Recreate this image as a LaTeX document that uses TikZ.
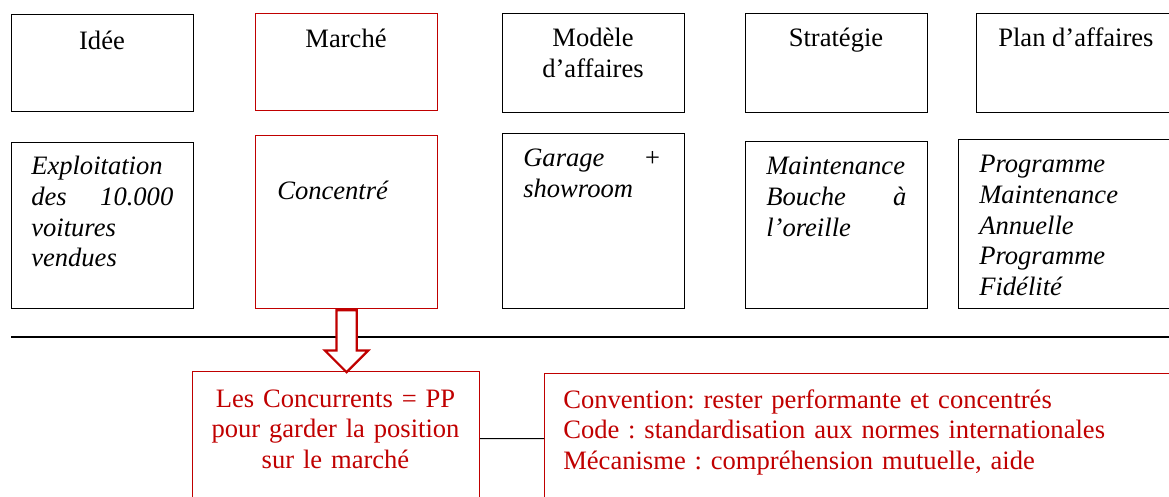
\documentclass[tikz,border=0pt]{standalone}
\usepackage{fontspec}
\setmainfont{Liberation Serif}
\usepackage{tikz}
\usetikzlibrary{shapes,arrows}
\usepackage{xcolor}
\definecolor{rougefonce}{RGB}{192,0,0}
\frenchspacing

\begin{document}
\begin{tikzpicture}[x=0.025cm, y=-0.025cm,
		every node/.style={font=\fontsize{18.9}{21.7}\selectfont},
		cadre/.style={draw=black, line width=0.7pt, anchor=north west, inner sep=0pt},
		cadrerouge/.style={cadre, draw=rougefonce},
		titre/.style={anchor=base, text width=4.4cm, align=center, inner sep=0pt},
		contenu/.style={anchor=base west, align=left, inner sep=0pt, font=\fontsize{18.9}{21.7}\selectfont\itshape},
		texterouge/.style={text=rougefonce, inner sep=0pt},
		fleche/.style={single arrow, draw=rougefonce, fill=white, line width=1.6pt, shape border rotate=270, inner sep=0.225cm, single arrow head extend=0.29cm, minimum height=1.55cm, anchor=tail}]
		\useasboundingbox (0,0) rectangle (1169,497);
		% ligne du haut
		\node[cadre, minimum width=4.55cm, minimum height=2.425cm] (idee) at (11,14) {};
		\node[cadrerouge, minimum width=4.55cm, minimum height=2.425cm] (marche) at (255,13) {};
		\node[cadre, minimum width=4.55cm, minimum height=2.475cm] (modele) at (502,13) {};
		\node[cadre, minimum width=4.55cm, minimum height=2.475cm] (strategie) at (745,13) {};
		\node[cadre, minimum width=5cm, minimum height=2.475cm] (plan) at (976,13) {};
		\node[titre] (tidee) at (102,50) {Idée};
		\node[titre] (tmarche) at (346,48) {Marché};
		\node[titre] (tmodele) at (593,47) {Modèle\\d’affaires};
		\node[titre] (tstrategie) at (836,47) {Stratégie};
		\node[anchor=base west, inner sep=0pt] (tplan) at (998,47) {Plan d’affaires};
		% ligne du bas
		\node[cadre, minimum width=4.55cm, minimum height=4.15cm] (idee2) at (11,142) {};
		\node[cadrerouge, minimum width=4.55cm, minimum height=4.325cm] (marche2) at (255,135) {};
		\node[cadre, minimum width=4.55cm, minimum height=4.375cm] (modele2) at (502,133) {};
		\node[cadre, minimum width=4.55cm, minimum height=4.175cm] (strategie2) at (745,141) {};
		\node[cadre, minimum width=5.5cm, minimum height=4.225cm] (plan2) at (958,139) {};
		\node[contenu, text width=3.55cm] (cidee) at (31,175) {Exploitation\\des\hfill 10.000\\voitures\\vendues};
		\node[contenu, text width=3.5cm] (cmarche) at (277,200) {Concentré};
		\node[contenu, text width=3.45cm] (cmodele) at (523,167) {Garage\hfill +\\showroom};
		\node[contenu, text width=3.5cm] (cstrategie) at (766,175) {Maintenance\\Bouche\hfill à\\l’oreille};
		\node[contenu, text width=3.6cm] (cplan) at (979,173) {Programme\\Maintenance\\Annuelle\\Programme\\Fidélité};
		% separation
		\coordinate (sepg) at (11,337);
		\coordinate (sepd) at (1169,337);
		\draw[line width=1.5pt] (sepg) -- (sepd);
		% partie rouge
		\node[cadrerouge, minimum width=7.175cm, minimum height=3.35cm] (concurrents) at (192,371) {};
		\node[cadrerouge, minimum width=15.9cm, minimum height=3.25cm] (convention) at (544,373) {};
		\node[texterouge, anchor=base, text width=7cm, align=center] (tconcurrents) at (335.5,407) {Les Concurrents = PP\\pour garder la position\\sur le marché};
		\node[texterouge, anchor=base west, text width=15cm, align=left] (tconvention) at (563,408) {Convention: rester performante et concentrés\\Code : standardisation aux normes internationales\\Mécanisme : compréhension mutuelle, aide};
		\node[fleche] (fl) at (marche2.south) {};
		\draw[line width=0.7pt] (concurrents.east) -- (convention.west);
\end{tikzpicture}
\end{document}
